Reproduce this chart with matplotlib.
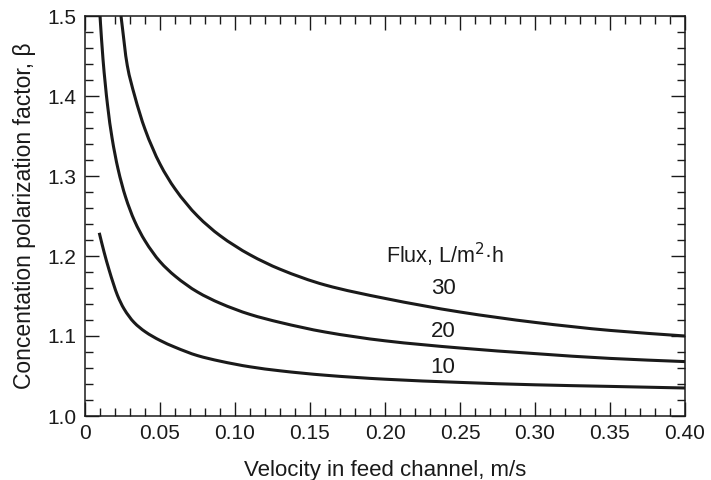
import matplotlib
matplotlib.use("Agg")
import numpy as np
import matplotlib.pyplot as plt
from matplotlib.path import Path
from matplotlib.patches import PathPatch
from matplotlib.ticker import MultipleLocator

plt.rcParams['font.family'] = ['Liberation Sans', 'DejaVu Sans']

# Flux 10 L/m2.h : velocity (m/s) and concentration polarization factor
v10 = [0.0095, 0.0127, 0.016, 0.019, 0.0216, 0.026, 0.0327, 0.040, 0.050, 0.060,
       0.075, 0.090, 0.110, 0.130, 0.160, 0.200, 0.250, 0.300, 0.350, 0.400]
b10 = [1.229, 1.205, 1.183, 1.165, 1.151, 1.134, 1.117, 1.1055, 1.0945, 1.086,
       1.0755, 1.0686, 1.0615, 1.0565, 1.051, 1.046, 1.042, 1.039, 1.037, 1.035]
# Flux 20
v20 = [0.010, 0.012, 0.015, 0.018, 0.022, 0.027, 0.033, 0.040, 0.050, 0.060,
       0.075, 0.090, 0.110, 0.130, 0.160, 0.200, 0.250, 0.300, 0.350, 0.400]
b20 = [1.500, 1.446, 1.389, 1.348, 1.309, 1.274, 1.244, 1.219, 1.193, 1.175,
       1.155, 1.141, 1.127, 1.117, 1.105, 1.094, 1.085, 1.078, 1.072, 1.068]
# Flux 30
v30 = [0.0240, 0.0282, 0.033, 0.040, 0.050, 0.060, 0.075, 0.090, 0.110, 0.130,
       0.160, 0.200, 0.250, 0.300, 0.350, 0.400]
b30 = [1.500, 1.438, 1.401, 1.3585, 1.315, 1.284, 1.250, 1.2255, 1.2015, 1.1835,
       1.1638, 1.147, 1.130, 1.117, 1.107, 1.100]

xticks = [0, 0.05, 0.10, 0.15, 0.20, 0.25, 0.30, 0.35, 0.40]
xticklabels = ["0", "0.05", "0.10", "0.15", "0.20", "0.25", "0.30", "0.35", "0.40"]
yticks = [1.0, 1.1, 1.2, 1.3, 1.4, 1.5]
yticklabels = ["1.0", "1.1", "1.2", "1.3", "1.4", "1.5"]

ink = '#1a1a1a'


def smooth_path(x, y):
    """Bezier path through the read points (monotone cubic tangents)."""
    x = np.asarray(x, float)
    y = np.asarray(y, float)
    h = np.diff(x)
    d = np.diff(y) / h
    m = np.zeros_like(y)
    m[0], m[-1] = d[0], d[-1]
    for i in range(1, len(y) - 1):
        if d[i - 1] * d[i] <= 0:
            m[i] = 0.0
        else:
            w1 = 2 * h[i] + h[i - 1]
            w2 = h[i] + 2 * h[i - 1]
            m[i] = (w1 + w2) / (w1 / d[i - 1] + w2 / d[i])
    verts = [(x[0], y[0])]
    codes = [Path.MOVETO]
    for i in range(len(x) - 1):
        verts += [(x[i] + h[i] / 3, y[i] + m[i] * h[i] / 3),
                  (x[i + 1] - h[i] / 3, y[i + 1] - m[i + 1] * h[i] / 3),
                  (x[i + 1], y[i + 1])]
        codes += [Path.CURVE4] * 3
    return Path(verts, codes)


fig = plt.figure(figsize=(7.11, 4.80), dpi=100)
ax = fig.add_axes([85/711, 1-416/480, 600/711, 400/480])

for v, b in [(v10, b10), (v20, b20), (v30, b30)]:
    ax.add_patch(PathPatch(smooth_path(v, b), fill=False, edgecolor=ink,
                           lw=2.2, capstyle='butt'))

ax.set_xlim(0, 0.40)
ax.set_ylim(1.0, 1.5)
ax.set_xticks(xticks)
ax.set_xticklabels(xticklabels)
ax.set_yticks(yticks)
ax.set_yticklabels(yticklabels)
ax.xaxis.set_minor_locator(MultipleLocator(0.01))
ax.yaxis.set_minor_locator(MultipleLocator(0.02))
ax.tick_params(which='both', direction='in', top=True, right=True,
               labelsize=15, colors=ink, width=1.0)
ax.tick_params(which='major', length=10, pad=6)
ax.tick_params(which='minor', length=6)
for s in ax.spines.values():
    s.set_linewidth(1.1)
    s.set_color(ink)

ax.set_xlabel("Velocity in feed channel, m/s", fontsize=16, color=ink, labelpad=12)
ax.set_ylabel("Concentation polarization factor, β", fontsize=16.5, color=ink, labelpad=8)

ax.text(0.2007, 1.201, "Flux, L/m$^2$·h", fontsize=15.5, color=ink, va='center', ha='left')
ax.text(0.2387, 1.159, "30", fontsize=16, color=ink, va='center', ha='center')
ax.text(0.2387, 1.106, "20", fontsize=16, color=ink, va='center', ha='center')
ax.text(0.2387, 1.061, "10", fontsize=16, color=ink, va='center', ha='center')

fig.savefig("out.png", dpi=100)
